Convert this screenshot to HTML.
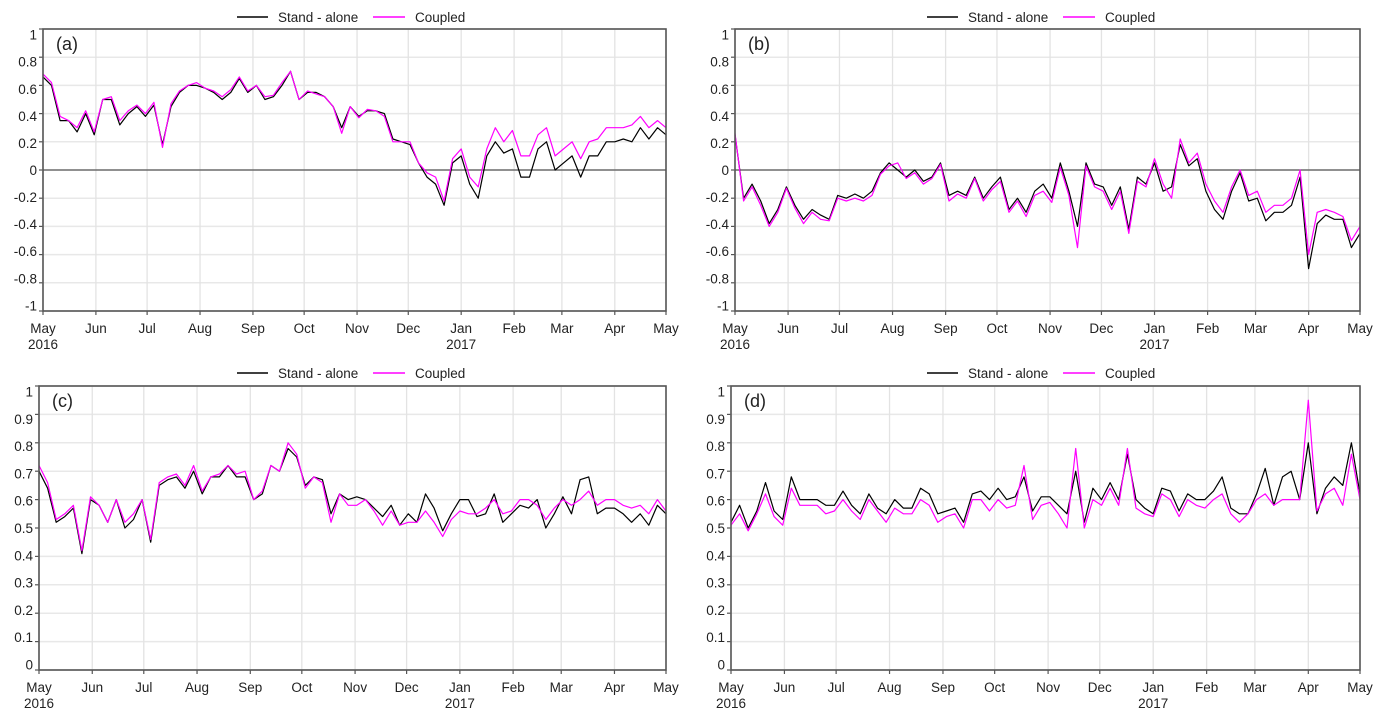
<!DOCTYPE html>
<html><head><meta charset="utf-8">
<style>
html,body{margin:0;padding:0;background:#fff;}
svg{display:block;font-family:"Liberation Sans",sans-serif;}
</style></head>
<body>
<svg id="chart" width="1382" height="722" viewBox="0 0 1382 722" xmlns="http://www.w3.org/2000/svg"></svg>
<script>
const days = [];
for (let d = 0; d <= 365; d += 5) days.push(d);
const monthDays = [0,31,61,92,123,153,184,214,245,276,304,335,365];
const monthLabels = ["May","Jun","Jul","Aug","Sep","Oct","Nov","Dec","Jan","Feb","Mar","Apr","May"];
const ticksCorr = [-1,-0.8,-0.6,-0.4,-0.2,0,0.2,0.4,0.6,0.8,1];
const tickLabelsCorr = ["-1","-0.8","-0.6","-0.4","-0.2","0","0.2","0.4","0.6","0.8","1"];
const ticksUnit = [0,0.1,0.2,0.3,0.4,0.5,0.6,0.7,0.8,0.9,1];
const tickLabelsUnit = ["0","0.1","0.2","0.3","0.4","0.5","0.6","0.7","0.8","0.9","1"];

const aStand = [0.66,0.6,0.35,0.35,0.27,0.4,0.25,0.5,0.5,0.32,
0.4,0.45,0.38,0.46,0.18,0.45,0.55,0.6,0.6,0.58,
0.55,0.5,0.55,0.65,0.55,0.6,0.5,0.52,0.6,0.7,
0.5,0.55,0.55,0.52,0.45,0.3,0.45,0.38,0.42,0.42,
0.4,0.22,0.2,0.18,0.05,-0.05,-0.1,-0.25,0.05,0.1,
-0.1,-0.2,0.1,0.2,0.12,0.15,-0.05,-0.05,0.15,0.2,
0.0,0.05,0.1,-0.05,0.1,0.1,0.2,0.2,0.22,0.2,
0.3,0.22,0.3,0.25];
const aCoupled = [0.68,0.62,0.38,0.35,0.3,0.42,0.27,0.5,0.52,0.35,
0.42,0.46,0.4,0.48,0.16,0.47,0.56,0.6,0.62,0.58,
0.56,0.52,0.57,0.66,0.56,0.6,0.52,0.53,0.62,0.7,
0.5,0.56,0.54,0.52,0.45,0.26,0.45,0.37,0.43,0.42,
0.38,0.2,0.2,0.2,0.05,-0.02,-0.05,-0.22,0.08,0.15,
-0.05,-0.12,0.15,0.3,0.2,0.28,0.1,0.1,0.25,0.3,
0.1,0.15,0.2,0.08,0.2,0.22,0.3,0.3,0.3,0.32,
0.38,0.3,0.35,0.3];
const bStand = [0.25,-0.2,-0.1,-0.22,-0.38,-0.28,-0.12,-0.25,-0.35,-0.28,
-0.32,-0.35,-0.18,-0.2,-0.17,-0.2,-0.15,-0.02,0.05,0.0,
-0.05,0.0,-0.08,-0.05,0.05,-0.18,-0.15,-0.18,-0.05,-0.2,
-0.12,-0.05,-0.28,-0.2,-0.3,-0.15,-0.1,-0.2,0.05,-0.15,
-0.4,0.05,-0.1,-0.12,-0.25,-0.12,-0.42,-0.05,-0.1,0.05,
-0.15,-0.12,0.18,0.03,0.08,-0.15,-0.28,-0.35,-0.15,-0.02,
-0.22,-0.2,-0.36,-0.3,-0.3,-0.25,-0.05,-0.7,-0.38,-0.32,
-0.35,-0.35,-0.55,-0.45];
const bCoupled = [0.26,-0.22,-0.12,-0.25,-0.4,-0.3,-0.13,-0.27,-0.38,-0.3,
-0.35,-0.36,-0.2,-0.22,-0.2,-0.22,-0.18,-0.03,0.03,0.05,
-0.06,-0.02,-0.1,-0.06,0.04,-0.22,-0.17,-0.2,-0.06,-0.22,
-0.14,-0.08,-0.3,-0.22,-0.33,-0.18,-0.15,-0.23,0.02,-0.18,
-0.55,0.03,-0.12,-0.15,-0.28,-0.15,-0.45,-0.08,-0.12,0.08,
-0.1,-0.2,0.22,0.05,0.12,-0.1,-0.22,-0.3,-0.12,0.0,
-0.18,-0.15,-0.3,-0.25,-0.25,-0.2,0.0,-0.6,-0.3,-0.28,
-0.3,-0.33,-0.5,-0.4];
const cStand = [0.7,0.64,0.52,0.54,0.57,0.41,0.6,0.58,0.52,0.6,
0.5,0.53,0.6,0.45,0.65,0.67,0.68,0.64,0.7,0.62,
0.68,0.68,0.72,0.68,0.68,0.6,0.62,0.72,0.7,0.78,
0.75,0.65,0.68,0.67,0.55,0.62,0.6,0.61,0.6,0.57,
0.54,0.58,0.51,0.55,0.52,0.62,0.57,0.49,0.55,0.6,
0.6,0.54,0.55,0.62,0.52,0.55,0.58,0.57,0.6,0.5,
0.55,0.61,0.55,0.67,0.68,0.55,0.57,0.57,0.55,0.52,
0.55,0.51,0.58,0.55];
const cCoupled = [0.72,0.66,0.53,0.55,0.58,0.42,0.61,0.58,0.52,0.6,
0.52,0.55,0.6,0.46,0.66,0.68,0.69,0.65,0.72,0.63,
0.68,0.69,0.72,0.69,0.7,0.6,0.63,0.72,0.7,0.8,
0.76,0.64,0.68,0.66,0.52,0.62,0.58,0.58,0.6,0.56,
0.51,0.56,0.51,0.52,0.52,0.56,0.52,0.47,0.53,0.56,
0.55,0.55,0.57,0.6,0.55,0.56,0.6,0.6,0.58,0.53,
0.57,0.6,0.58,0.6,0.63,0.58,0.6,0.6,0.58,0.57,
0.58,0.55,0.6,0.56];
const dStand = [0.52,0.58,0.5,0.56,0.66,0.56,0.53,0.68,0.6,0.6,
0.6,0.58,0.58,0.63,0.58,0.55,0.62,0.57,0.55,0.6,
0.57,0.57,0.64,0.62,0.55,0.56,0.57,0.52,0.62,0.63,
0.6,0.64,0.6,0.61,0.68,0.56,0.61,0.61,0.58,0.55,
0.7,0.52,0.64,0.6,0.66,0.6,0.76,0.6,0.57,0.55,
0.64,0.63,0.56,0.62,0.6,0.6,0.63,0.68,0.57,0.55,
0.55,0.62,0.71,0.58,0.68,0.7,0.6,0.8,0.55,0.64,
0.68,0.65,0.8,0.62];
const dCoupled = [0.51,0.55,0.49,0.55,0.62,0.54,0.51,0.64,0.58,0.58,
0.58,0.55,0.56,0.6,0.56,0.53,0.6,0.56,0.52,0.57,
0.55,0.55,0.6,0.58,0.52,0.54,0.55,0.5,0.6,0.6,
0.56,0.6,0.57,0.58,0.72,0.53,0.58,0.59,0.55,0.5,
0.78,0.5,0.6,0.58,0.64,0.58,0.78,0.57,0.55,0.54,
0.62,0.6,0.54,0.6,0.58,0.57,0.6,0.62,0.55,0.52,
0.55,0.6,0.62,0.58,0.6,0.6,0.6,0.95,0.56,0.62,
0.64,0.58,0.76,0.6];

const NS = "http://www.w3.org/2000/svg";
const svg = document.getElementById("chart");
function mk(tag, attrs, parent) {
  const e = document.createElementNS(NS, tag);
  for (const k in attrs) e.setAttribute(k, attrs[k]);
  (parent || svg).appendChild(e);
  return e;
}

const panels = [
  {id:"a", left:43, right:666, top:29, bottom:311, ymin:-1, ymax:1, ticks:ticksCorr, labels:tickLabelsCorr, s:aStand, c:aCoupled, zero:true, legX:237, legY:17},
  {id:"b", left:735, right:1360, top:29, bottom:311, ymin:-1, ymax:1, ticks:ticksCorr, labels:tickLabelsCorr, s:bStand, c:bCoupled, zero:true, legX:927, legY:17},
  {id:"c", left:39, right:666, top:386, bottom:670, ymin:0, ymax:1, ticks:ticksUnit, labels:tickLabelsUnit, s:cStand, c:cCoupled, zero:false, legX:237, legY:373},
  {id:"d", left:731, right:1360, top:386, bottom:670, ymin:0, ymax:1, ticks:ticksUnit, labels:tickLabelsUnit, s:dStand, c:dCoupled, zero:false, legX:927, legY:373}
];

panels.forEach(p => {
  const g = mk("g", {});
  
  
  const xs = d => p.left + d / 365 * (p.right - p.left);
  const ys = v => p.bottom - (v - p.ymin) / (p.ymax - p.ymin) * (p.bottom - p.top);
  const mid = (p.top + p.bottom) / 2, vmid = (p.ymin + p.ymax) / 2;
  const labY = v => mid - (v - vmid) / (p.ymax - p.ymin) * (p.bottom - p.top) * 0.96;

  p.ticks.forEach((t, i) => {
    const y = ys(t);
    const gl = mk("line", {x1:p.left, x2:p.right, y1:y, y2:y, stroke:"#e8e8e8", "stroke-width":1.5}, g);
    
    
    const tk = mk("line", {x1:p.left-4, x2:p.left, y1:y, y2:y, stroke:"#555", "stroke-width":1.2}, g);
    
    
    const tl = mk("text", {x:p.left-6, y:labY(t)+5, "text-anchor":"end", "font-size":13.5, fill:"#222"}, g);
    tl.textContent = p.labels[i];
    
    
  });
  monthDays.forEach((md, i) => {
    const x = xs(md);
    const gl = mk("line", {x1:x, x2:x, y1:p.top, y2:p.bottom, stroke:"#e3e3e3", "stroke-width":1.3}, g);
    
    
    const tk = mk("line", {x1:x, x2:x, y1:p.bottom, y2:p.bottom+4, stroke:"#555", "stroke-width":1.2}, g);
    
    
    const tl = mk("text", {x:x, y:p.bottom+22, "text-anchor":"middle", "font-size":13.5, fill:"#222"}, g);
    tl.textContent = monthLabels[i];
    
    
  });
  [[0,"2016"],[245,"2017"]].forEach(yr => {
    const t = mk("text", {x:xs(yr[0]), y:p.bottom+38, "text-anchor":"middle", "font-size":13.5, fill:"#222"}, g);
    t.textContent = yr[1];
    
    
  });
  if (p.zero) {
    const z = mk("line", {x1:p.left, x2:p.right, y1:ys(0), y2:ys(0), stroke:"#555", "stroke-width":1.3}, g);
    
    
  }
  const path = arr => arr.map((v, i) => (i ? "L" : "M") + xs(days[i]).toFixed(1) + "," + ys(v).toFixed(1)).join("");
  const ls = mk("path", {d:path(p.s), fill:"none", stroke:"#000", "stroke-width":1.2, "stroke-linejoin":"round"}, g);
  
  
  const lc = mk("path", {d:path(p.c), fill:"none", stroke:"#ff00ff", "stroke-width":1.2, "stroke-linejoin":"round"}, g);
  
  
  const fr = mk("rect", {x:p.left, y:p.top, width:p.right-p.left, height:p.bottom-p.top, fill:"none", stroke:"#555", "stroke-width":1.6}, g);
  
  
  const pl = mk("text", {x:p.left+13, y:p.top+21, "font-size":18, fill:"#222"}, g);
  pl.textContent = "(" + p.id + ")";
  
  
  const lg = mk("g", {}, g);
  
  
  const l1 = mk("line", {x1:p.legX, x2:p.legX+31, y1:p.legY, y2:p.legY, stroke:"#000", "stroke-width":1.5}, lg);
  
  
  const t1 = mk("text", {x:p.legX+41, y:p.legY+5, "font-size":13.5, fill:"#222"}, lg);
  t1.textContent = "Stand - alone";
  
  
  const l2 = mk("line", {x1:p.legX+136, x2:p.legX+168, y1:p.legY, y2:p.legY, stroke:"#ff00ff", "stroke-width":1.5}, lg);
  
  
  const t2 = mk("text", {x:p.legX+178, y:p.legY+5, "font-size":13.5, fill:"#222"}, lg);
  t2.textContent = "Coupled";
  
  
});
</script>
</body></html>
